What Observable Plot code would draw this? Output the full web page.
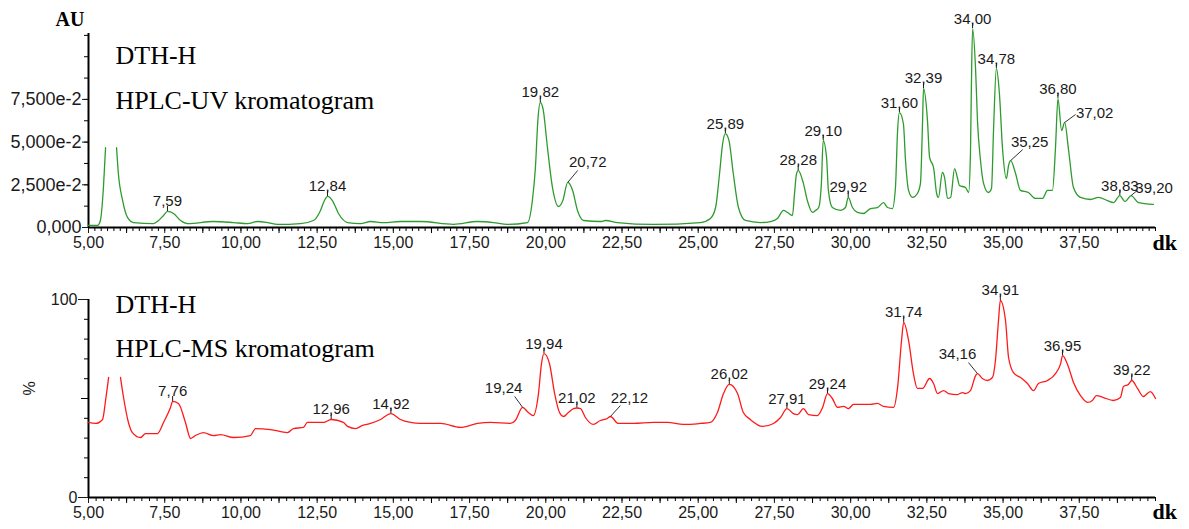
<!DOCTYPE html>
<html>
<head>
<meta charset="utf-8">
<script src="https://cdn.jsdelivr.net/npm/d3@7"></script>
<script src="https://cdn.jsdelivr.net/npm/@observablehq/plot@0.6"></script>
<style>
  html, body { margin: 0; padding: 0; background: #fff; }
  #chart svg { display: block; }
</style>
</head>
<body>
<div id="chart"></div>
<script>
// ---- HPLC-UV trace (retention time in min, absorbance in AU; null = off scale) ----
const uvTime = [5.00, 5.30, 5.39, 5.49, 5.56, 5.75, 5.92, 5.98, 6.12, 6.28, 6.48, 7.13, 7.30, 7.46, 7.59, 7.79, 8.02, 8.25,
  9.10, 9.76, 10.22, 10.54, 10.87, 11.20, 11.95, 12.38, 12.61, 12.74, 12.84, 13.00, 13.20, 13.50, 13.92, 14.25, 14.68,
  15.23, 15.89, 16.97, 17.76, 18.28, 18.74, 19.40, 19.56, 19.66, 19.74, 19.82, 19.92, 20.04, 20.22, 20.42, 20.56, 20.72,
  20.88, 21.04, 21.24, 21.79, 21.96, 22.35, 23.53, 25.07, 25.40, 25.57, 25.70, 25.80, 25.89, 26.01, 26.15, 26.32, 26.55,
  27.04, 27.37, 27.60, 27.80, 27.93, 28.09, 28.16, 28.22, 28.28, 28.45, 28.58, 28.75, 28.85, 28.95, 29.04, 29.10, 29.21,
  29.27, 29.40, 29.67, 29.83, 29.92, 30.06, 30.22, 30.42, 30.65, 30.88, 31.08, 31.21, 31.37, 31.47, 31.54, 31.60, 31.73,
  31.80, 31.90, 32.03, 32.19, 32.29, 32.36, 32.39, 32.52, 32.59, 32.72, 32.82, 32.88, 33.01, 33.08, 33.18, 33.28, 33.41,
  33.50, 33.57, 33.77, 33.87, 33.93, 33.96, 34.00, 34.10, 34.16, 34.26, 34.36, 34.52, 34.62, 34.69, 34.78, 34.88, 34.98,
  35.11, 35.18, 35.25, 35.41, 35.57, 35.83, 36.06, 36.29, 36.46, 36.62, 36.72, 36.80, 36.92, 37.02, 37.15, 37.31, 37.54,
  37.87, 38.13, 38.42, 38.62, 38.83, 39.00, 39.20, 39.44, 39.93];
const uvAbs = [0.0012, 0.0012, 0.0041, 0.0234, 0.0468, null, 0.0468, 0.0316, 0.0158, 0.0059, 0.0029, 0.0023, 0.0041, 0.0070, 0.0094, 0.0082, 0.0041, 0.0023,
  0.0035, 0.0029, 0.0023, 0.0035, 0.0029, 0.0018, 0.0023, 0.0041, 0.0100, 0.0158, 0.0182, 0.0158, 0.0082, 0.0029, 0.0023, 0.0035, 0.0029,
  0.0035, 0.0035, 0.0018, 0.0035, 0.0029, 0.0018, 0.0029, 0.0158, 0.0351, 0.0627, 0.0732, 0.0685, 0.0492, 0.0234, 0.0123, 0.0158, 0.0264,
  0.0217, 0.0100, 0.0041, 0.0035, 0.0041, 0.0029, 0.0018, 0.0029, 0.0053, 0.0117, 0.0316, 0.0490, 0.0550, 0.0509, 0.0316, 0.0117, 0.0041,
  0.0029, 0.0035, 0.0053, 0.0100, 0.0088, 0.0070, 0.0200, 0.0310, 0.0334, 0.0258, 0.0158, 0.0088, 0.0100, 0.0117, 0.0258, 0.0509, 0.0410,
  0.0217, 0.0117, 0.0100, 0.0117, 0.0176, 0.0117, 0.0088, 0.0082, 0.0111, 0.0117, 0.0146, 0.0117, 0.0111, 0.0234, 0.0568, 0.0673, 0.0609,
  0.0392, 0.0217, 0.0176, 0.0199, 0.0258, 0.0627, 0.0814, 0.0627, 0.0410, 0.0351, 0.0199, 0.0176, 0.0322, 0.0293, 0.0170, 0.0176, 0.0345,
  0.0293, 0.0246, 0.0234, 0.0205, 0.0433, 0.0820, 0.1165, 0.0919, 0.0627, 0.0392, 0.0258, 0.0205, 0.0228, 0.0586, 0.0931, 0.0785, 0.0468,
  0.0287, 0.0363, 0.0392, 0.0316, 0.0217, 0.0205, 0.0170, 0.0170, 0.0217, 0.0217, 0.0468, 0.0755, 0.0568, 0.0615, 0.0451, 0.0234, 0.0176,
  0.0164, 0.0176, 0.0158, 0.0146, 0.0187, 0.0152, 0.0187, 0.0146, 0.0135];
const uvPeaks = [7.59, 12.84, 19.82, 20.72, 25.89, 28.28, 29.10, 29.92, 31.60, 32.39, 34.00, 34.78, 35.25, 36.80, 37.02, 38.83, 39.20];

// ---- HPLC-MS trace (retention time in min, relative intensity in %; null = off scale) ----
const msTime = [5.00, 5.23, 5.46, 5.56, 5.66, 5.85, 6.05, 6.15, 6.31, 6.44, 6.71, 6.87, 7.26, 7.46, 7.69, 7.76, 7.95, 8.18,
  8.35, 8.51, 8.77, 9.10, 9.33, 9.76, 10.31, 10.48, 10.97, 11.53, 11.72, 12.05, 12.18, 12.71, 12.96, 13.36, 13.50, 13.76,
  13.99, 14.25, 14.58, 14.92, 15.23, 15.56, 15.89, 16.55, 17.20, 17.76, 18.19, 18.84, 19.00, 19.24, 19.43, 19.59, 19.76,
  19.86, 19.94, 20.12, 20.29, 20.45, 20.58, 20.74, 20.91, 21.02, 21.14, 21.30, 21.56, 21.79, 22.02, 22.12, 22.38, 22.88,
  23.53, 23.99, 24.51, 25.07, 25.40, 25.63, 25.83, 26.02, 26.29, 26.48, 26.71, 27.11, 27.47, 27.70, 27.91, 28.12, 28.26,
  28.45, 28.62, 28.91, 29.08, 29.24, 29.40, 29.57, 29.77, 29.93, 30.09, 30.65, 30.88, 31.08, 31.41, 31.54, 31.67, 31.74,
  31.90, 32.06, 32.19, 32.36, 32.59, 32.72, 32.85, 33.05, 33.21, 33.50, 33.67, 33.77, 33.93, 34.10, 34.16, 34.32, 34.49,
  34.65, 34.75, 34.85, 34.91, 35.08, 35.18, 35.34, 35.57, 35.80, 36.00, 36.16, 36.46, 36.72, 36.89, 36.95, 37.15, 37.31,
  37.54, 37.77, 37.93, 38.06, 38.29, 38.62, 38.85, 38.95, 39.11, 39.22, 39.41, 39.60, 39.83, 40.00];
const msPct = [37.9, 37.4, 39.4, 49.0, 60.6, null, 60.6, 50.5, 37.9, 32.8, 30.3, 32.3, 32.3, 37.9, 45.5, 48.5, 47.5, 37.9,
  29.8, 31.3, 32.8, 31.3, 31.8, 30.3, 31.3, 34.8, 34.3, 32.8, 34.8, 35.4, 37.9, 37.9, 39.4, 37.9, 35.9, 34.8,
  36.4, 37.4, 39.4, 42.4, 39.4, 37.9, 37.4, 37.4, 35.4, 37.4, 37.9, 37.4, 38.9, 45.5, 42.9, 41.4, 52.5,
  67.7, 72.7, 67.7, 52.5, 42.9, 40.9, 42.9, 44.9, 45.2, 44.9, 40.4, 36.9, 38.9, 39.9, 40.9, 37.4, 37.4,
  37.9, 37.9, 36.9, 37.4, 37.9, 42.9, 52.5, 57.1, 52.5, 42.9, 39.4, 35.9, 37.4, 40.4, 44.9, 42.4, 41.9,
  44.9, 41.9, 41.4, 45.5, 52.5, 50.0, 45.5, 46.0, 44.9, 47.0, 47.0, 47.5, 46.0, 45.5, 55.6, 79.3, 88.4,
  79.3, 62.6, 55.1, 55.1, 60.1, 57.6, 52.5, 54.0, 52.5, 52.0, 53.0, 52.5, 54.0, 61.6, 62.6, 60.1, 59.1,
  60.6, 69.2, 89.4, 99.5, 89.4, 70.7, 63.1, 60.6, 57.6, 54.0, 57.6, 59.1, 62.6, 67.7, 71.7, 65.7, 58.1,
  51.5, 48.0, 49.0, 51.5, 50.5, 49.0, 50.5, 56.1, 57.1, 59.1, 55.1, 51.0, 53.5, 50.0];
const msPeaks = [7.76, 12.96, 14.92, 19.24, 19.94, 21.02, 22.12, 26.02, 27.91, 29.24, 31.74, 34.16, 34.91, 36.95, 39.22];

// ---- layout ----
const W = 1189, ML = 88, MR = 34;
const X_DOMAIN = [5, 40];
const xPx = (W - ML - MR) / (X_DOMAIN[1] - X_DOMAIN[0]);   // pixels per minute
const SANS = "Liberation Sans, Arial, Helvetica, sans-serif";
const SERIF = "Liberation Serif, Times New Roman, serif";
const INK = "#1a1a1a";

// Peak labels that sit off to one side with a leader line (offsets in px, up = positive)
const uvLeaders = {
  "20.72": {lx: 10, ly: 12, tx: 20, ty: 15},
  "35.25": {lx: 12, ly: 11, tx: 19, ty: 14},
  "37.02": {lx: 11, ly: 8, tx: 30, ty: 4},
  "39.20": {lx: 6, ly: 5, tx: 23, ty: 3}
};
const msLeaders = {
  "19.24": {lx: -8, ly: 11, tx: -19, ty: 14},
  "22.12": {lx: 10, ly: 11, tx: 19, ty: 14},
  "34.16": {lx: -9, ly: 11, tx: -20, ty: 15}
};

const comma = (d, n) => d.toFixed(n).replace(".", ",");
const rowsOf = (ts, vs) => ts.map((t, i) => ({t, v: vs[i]}));

function peakRows(rows, peaks, leaders) {
  return peaks.map(p => {
    const r = rows.find(d => Math.abs(d.t - p) < 1e-9);
    const key = p.toFixed(2);
    return {t: p, v: r.v, label: comma(p, 2), lead: leaders[key] || null};
  });
}

function chromatogram({rows, peaks, leaders, color, yMax, height, marginTop, marginBottom,
                       yAxes, xMinorStep, title, unitMarks}) {
  const yPx = (height - marginTop - marginBottom) / yMax;   // pixels per y unit
  const pk = peakRows(rows, peaks, leaders);
  const plain = pk.filter(d => !d.lead);
  const side = pk.filter(d => d.lead);
  const xMajor = d3.range(5, 37.51, 2.5);
  const xMid = d3.range(6.25, 40.01, 2.5);
  const xMinor = d3.range(5, 40.0001, xMinorStep);
  return Plot.plot({
    width: W, height, marginLeft: ML, marginRight: MR, marginTop, marginBottom,
    style: {fontFamily: SANS, fontSize: "15px", color: INK, background: "#fff", overflow: "visible"},
    x: {domain: X_DOMAIN},
    y: {domain: [0, yMax]},
    marks: [
      // axes
      ...yAxes,
      Plot.axisX({ticks: xMinor, tickSize: 4, tickFormat: () => "", color: "#000", label: null}),
      Plot.axisX({ticks: xMid, tickSize: 6, tickFormat: () => "", color: "#000", label: null}),
      Plot.axisX({ticks: xMajor, tickSize: 6, tickPadding: 3, tickFormat: d => comma(d, 2),
                  fontSize: 16, color: INK, label: null}),
      Plot.ruleY([0], {stroke: "#000", strokeWidth: 2}),
      Plot.ruleX([5], {y1: 0, y2: yMax, stroke: "#000", strokeWidth: 2}),
      // trace
      Plot.line(rows, {x: "t", y: "v", stroke: color, strokeWidth: 1.3, curve: "monotone-x"}),
      // peak labels straight above the apex
      Plot.ruleX(plain, {x: "t", y1: "v", y2: d => d.v + 5 / yPx, stroke: INK, strokeWidth: 1}),
      Plot.text(plain, {x: "t", y: "v", text: "label", dy: -5, lineAnchor: "bottom",
                        fontSize: 15, fill: INK}),
      // peak labels with leader lines
      Plot.link(side, {x1: "t", y1: "v", x2: d => d.t + d.lead.lx / xPx, y2: d => d.v + d.lead.ly / yPx,
                       stroke: "#333", strokeWidth: 1}),
      Plot.text(side, {x: d => d.t + d.lead.tx / xPx, y: d => d.v + d.lead.ty / yPx, text: "label",
                       lineAnchor: "bottom", fontSize: 15, fill: INK}),
      // panel titles
      Plot.text([title[0]], {frameAnchor: "top-left", text: d => d, dx: 27, dy: title[2],
                             textAnchor: "start", lineAnchor: "bottom", fontFamily: SERIF, fontSize: 26, fill: "#000"}),
      Plot.text([title[1]], {frameAnchor: "top-left", text: d => d, dx: 27, dy: title[3],
                             textAnchor: "start", lineAnchor: "bottom", fontFamily: SERIF, fontSize: 26, fill: "#000"}),
      ...unitMarks
    ]
  });
}

const uvFmt = v => v === 0 ? "0,000" : comma(v * 100, 3) + "e-2";

const uvPlot = chromatogram({
  rows: rowsOf(uvTime, uvAbs), peaks: uvPeaks, leaders: uvLeaders, color: "#2e9b2e",
  yMax: 0.1136, height: 258, marginTop: 33, marginBottom: 31, xMinorStep: 2.5 / 12,
  title: ["DTH-H", "HPLC-UV kromatogram", 30, 75],
  yAxes: [
    Plot.axisY({ticks: d3.range(0, 0.1130, 0.0125), tickSize: 4, tickFormat: () => "", color: "#000", label: null}),
    Plot.axisY({ticks: [0, 0.025, 0.05, 0.075], tickSize: 6, tickPadding: 1, tickFormat: uvFmt,
                fontSize: 18, color: INK, label: null})
  ],
  unitMarks: [
    Plot.text(["AU"], {frameAnchor: "top-left", text: d => d, dx: -33, dy: -8, textAnchor: "start",
                       lineAnchor: "bottom", fontFamily: SERIF, fontWeight: "bold", fontSize: 20, fill: "#000"}),
    Plot.text(["dk"], {frameAnchor: "bottom-right", text: d => d, dx: -3, dy: 22, textAnchor: "start",
                       lineAnchor: "bottom", fontFamily: SERIF, fontWeight: "bold", fontSize: 22, fill: "#000"})
  ]
});

const msPlot = chromatogram({
  rows: rowsOf(msTime, msPct), peaks: msPeaks, leaders: msLeaders, color: "#ff1a1a",
  yMax: 100, height: 271, marginTop: 41, marginBottom: 32, xMinorStep: 0.25,
  title: ["DTH-H", "HPLC-MS kromatogram", 13, 57],
  yAxes: [
    Plot.axisY({ticks: d3.range(0, 100.1, 10), tickSize: 4, tickFormat: () => "", color: "#000", label: null}),
    Plot.axisY({ticks: [50], tickSize: 7, tickFormat: () => "", color: "#000", label: null}),
    Plot.axisY({ticks: [0, 100], tickSize: 10, tickPadding: 1, tickFormat: d => String(d),
                fontSize: 16, color: INK, label: null})
  ],
  unitMarks: [
    Plot.text(["%"], {frameAnchor: "left", text: d => d, dx: -59, dy: -3, rotate: -90,
                      fontSize: 16, fill: INK}),
    Plot.text(["dk"], {frameAnchor: "bottom-right", text: d => d, dx: -3, dy: 21, textAnchor: "start",
                       lineAnchor: "bottom", fontFamily: SERIF, fontWeight: "bold", fontSize: 22, fill: "#000"})
  ]
});

const root = document.getElementById("chart");
root.append(uvPlot, msPlot);
</script>
</body>
</html>
